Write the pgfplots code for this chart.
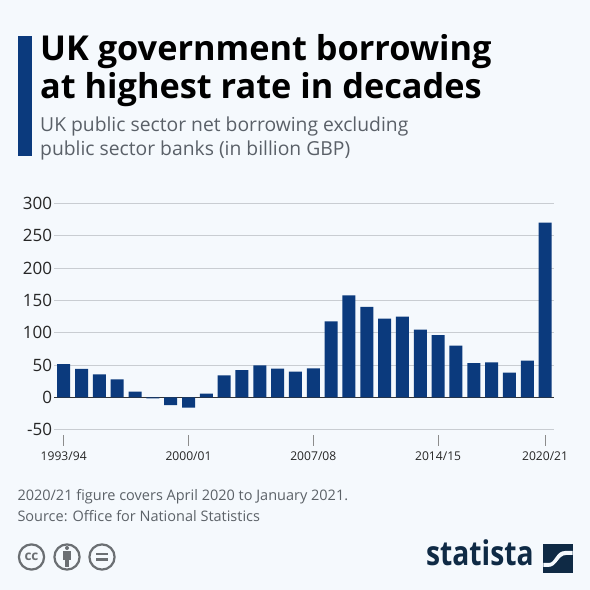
\documentclass[border=0pt]{standalone}
\usepackage{pgfplots}
\pgfplotsset{compat=1.18}
\usepackage{fontspec}
\setmainfont{Open Sans}
\definecolor{bg}{HTML}{F5F9FD}
\definecolor{barblue}{HTML}{0B3A7D}
\definecolor{gridc}{HTML}{C9CDD2}
\definecolor{subc}{HTML}{5A6068}
\definecolor{footc}{HTML}{5C6268}
\definecolor{logoc}{HTML}{0F2A45}
\definecolor{ccc}{HTML}{6B6F73}
\begin{document}
\begin{tikzpicture}[x=1pt,y=1pt]
\fill[bg] (0,0) rectangle (590,590);
\fill[barblue] (17.5,434) rectangle (32,554.3);
\node[anchor=base west,inner sep=0,font=\fontsize{34.3}{34.3}\selectfont\bfseries] at (40,529.3) {UK government borrowing};
\node[anchor=base west,inner sep=0,font=\fontsize{34.3}{34.3}\selectfont\bfseries] at (40,491.7) {at highest rate in decades};
\node[anchor=base west,inner sep=0,text=subc,font=\fontsize{19.3}{19.3}\selectfont] at (40,458) {UK public sector net borrowing excluding};
\node[anchor=base west,inner sep=0,text=subc,font=\fontsize{19.3}{19.3}\selectfont] at (40,434.3) {public sector banks (in billion GBP)};
\begin{axis}[
  at={(54.3pt,160.3pt)},anchor=south west,
  scale only axis,width=499.7pt,height=226.2pt,
  xmin=-0.527,xmax=27.5,ymin=-50,ymax=300,
  axis line style={draw=none},
  ytick={-50,0,50,100,150,200,250,300},
  ymajorgrids,
  grid style={gridc,line width=1pt},
  extra y ticks={0},
  extra y tick labels={},
  extra y tick style={grid style={black!80,line width=1pt}},
  xtick={0,7,14,21,27},
  xticklabels={1993/94,2000/01,2007/08,2014/15,2020/21},
  tick pos=left,
  tick align=outside,
  major tick length=11pt,
  ytick style={draw=none},
  xtick style={draw=gray!90,line width=0.8pt,yshift=-5.3pt},
  xticklabel style={font=\fontsize{12.1}{12.1}\selectfont,text=black!85,anchor=base,inner sep=0pt,yshift=-19.3pt},
  yticklabel style={font=\fontsize{17}{17}\selectfont,text=black!85,inner sep=0pt,anchor=east,xshift=9pt},
  /pgf/number format/assume math mode=true,
  ybar,bar width=13pt,bar shift=0pt,
  clip=false,
]
\addplot[fill=barblue,draw=none] coordinates {
(0,51.5)(1,44)(2,35.5)(3,28)(4,9)(5,-1.5)(6,-12)(7,-16)(8,5.7)(9,34)
(10,42)(11,49.5)(12,44.5)(13,40)(14,45)(15,117.5)(16,158)(17,140)(18,122)(19,125)
(20,105)(21,96.5)(22,80)(23,53)(24,54)(25,38.5)(26,57)(27,270.6)};
\end{axis}
\node[anchor=base west,inner sep=0,text=footc,font=\fontsize{14.5}{14.5}\selectfont] at (17.3,89) {2020/21 figure covers April 2020 to January 2021.};
\node[anchor=base west,inner sep=0,text=footc,font=\fontsize{14.5}{14.5}\selectfont] at (17.3,68.3) {Source: Office for National Statistics};
% cc icons
\foreach \cx in {31.5,67,102}{\draw[ccc,line width=2.2pt] (\cx,33) circle (12.6);}
\node[inner sep=0,text=ccc,font=\fontsize{13.5}{13.5}\selectfont\bfseries] at (31.5,33.5) {cc};
\fill[ccc] (67,42) circle (2);
\fill[ccc] (63.3,39) rectangle (70.7,30);
\fill[ccc] (65,30) rectangle (69,23);
\fill[ccc] (96,34.5) rectangle (108,37.2);
\fill[ccc] (96,28.8) rectangle (108,31.5);
% logo
\node[anchor=base west,inner sep=0,text=logoc,xscale=0.83,font=\fontsize{34}{34}\selectfont\bfseries] at (426,24) {statista};
\fill[logoc] (543.3,17) rectangle (572.7,46);
\fill[bg] (543.3,23) -- (548,23) .. controls (557,23) and (558,35) .. (566,35) -- (572.7,35) -- (572.7,39) -- (565,39) .. controls (556,39) and (555,27) .. (549,27) -- (543.3,27) -- cycle;
\end{tikzpicture}
\end{document}
